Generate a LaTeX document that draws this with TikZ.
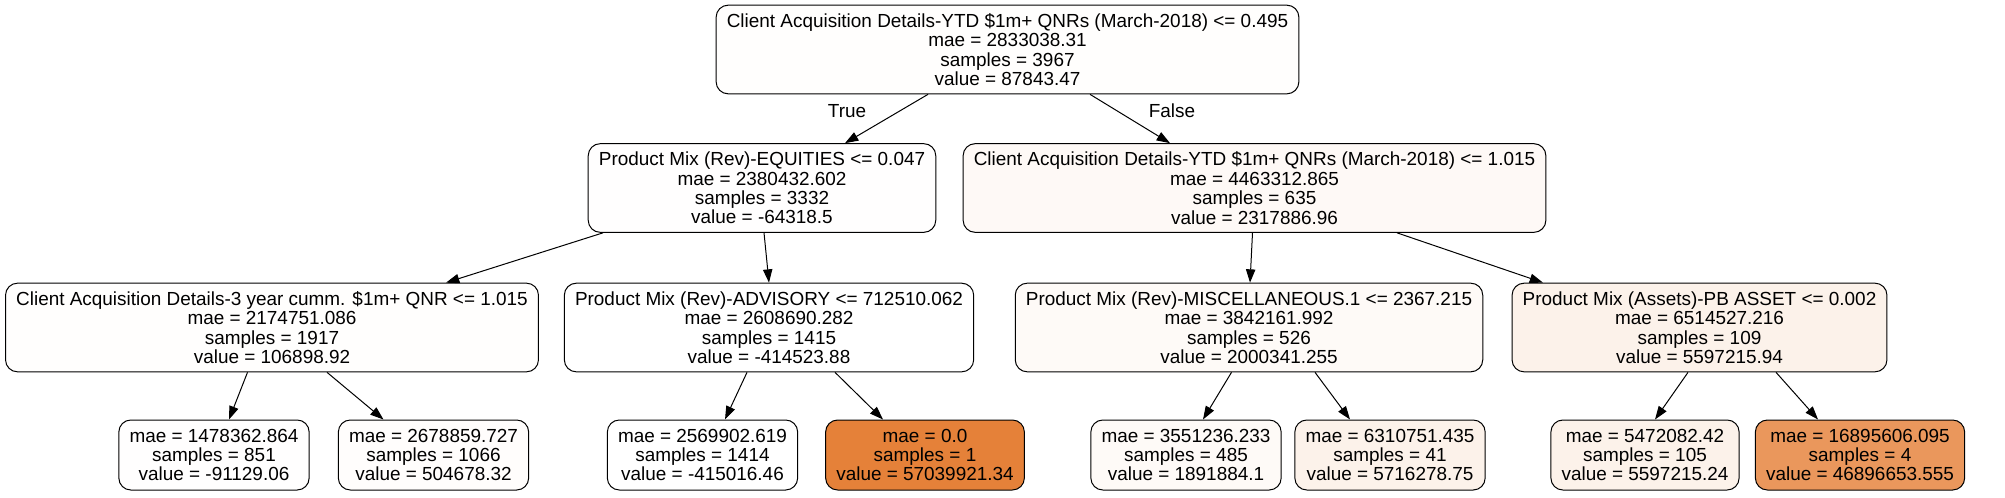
\documentclass[tikz,border=0pt]{standalone}
\usepackage{fontspec}
\setmainfont{Liberation Sans}
\usetikzlibrary{arrows.meta,calc}
\definecolor{fRoot}{RGB}{255,254,253}
\definecolor{fLa}{RGB}{255,254,254}
\definecolor{fLb}{RGB}{254,249,246}
\definecolor{fA}{RGB}{255,254,253}
\definecolor{fB}{RGB}{255,255,255}
\definecolor{fC}{RGB}{254,250,247}
\definecolor{fD}{RGB}{252,242,234}
\definecolor{fLone}{RGB}{255,254,254}
\definecolor{fLtwo}{RGB}{255,253,252}
\definecolor{fLthree}{RGB}{255,255,255}
\definecolor{fLfour}{RGB}{229,129,57}
\definecolor{fLfive}{RGB}{254,250,247}
\definecolor{fLsix}{RGB}{252,242,234}
\definecolor{fLseven}{RGB}{252,242,234}
\definecolor{fLeight}{RGB}{234,151,92}
\begin{document}
\begin{tikzpicture}[x=0.75pt,y=-0.75pt,
  tree/.style={draw=black, line width=0.75pt, rounded corners=9pt, align=center,
    inner xsep=8pt, inner ysep=0pt, font=\fontsize{14.2}{14.6}\selectfont},
  split/.style={tree, minimum height=66.5pt},
  leafbox/.style={tree, minimum height=52.5pt},
  edge/.style={line width=0.75pt, -{Triangle[length=10pt,width=7pt]}},
  elabel/.style={font=\fontsize{14.2}{14.6}\selectfont, inner sep=0pt}]
\fill[white] (0,0) rectangle (2005,497);
\useasboundingbox (0,0) rectangle (2005,497);

% level 0
\node[split, fill=fRoot] (root) at (1007.5,49.5)
  {Client Acquisition Details-YTD \$1m+ QNRs (March-2018) <= 0.495\\mae = 2833038.31\\samples = 3967\\value = 87843.47};
% level 1
\node[split, fill=fLa] (La) at (762,188)
  {Product Mix (Rev)-EQUITIES <= 0.047\\mae = 2380432.602\\samples = 3332\\value = -64318.5};
\node[split, fill=fLb] (Lb) at (1254.5,188)
  {Client Acquisition Details-YTD \$1m+ QNRs (March-2018) <= 1.015\\mae = 4463312.865\\samples = 635\\value = 2317886.96};
% level 2
\node[split, fill=fA] (A) at (272,327.5)
  {Client Acquisition Details-3 year cumm. \$1m+ QNR <= 1.015\\mae = 2174751.086\\samples = 1917\\value = 106898.92};
\node[split, fill=fB] (B) at (769,327.5)
  {Product Mix (Rev)-ADVISORY <= 712510.062\\mae = 2608690.282\\samples = 1415\\value = -414523.88};
\node[split, fill=fC] (C) at (1249,327.5)
  {Product Mix (Rev)-MISCELLANEOUS.1 <= 2367.215\\mae = 3842161.992\\samples = 526\\value = 2000341.255};
\node[split, fill=fD] (D) at (1699.5,327.5)
  {Product Mix (Assets)-PB ASSET <= 0.002\\mae = 6514527.216\\samples = 109\\value = 5597215.94};
% leaves
\node[leafbox, fill=fLone] (l1) at (214,455) {mae = 1478362.864\\samples = 851\\value = -91129.06};
\node[leafbox, fill=fLtwo] (l2) at (433.5,455) {mae = 2678859.727\\samples = 1066\\value = 504678.32};
\node[leafbox, fill=fLthree] (l3) at (702.5,455) {mae = 2569902.619\\samples = 1414\\value = -415016.46};
\node[leafbox, fill=fLfour] (l4) at (925,455) {mae = 0.0\\samples = 1\\value = 57039921.34};
\node[leafbox, fill=fLfive] (l5) at (1186,455) {mae = 3551236.233\\samples = 485\\value = 1891884.1};
\node[leafbox, fill=fLsix] (l6) at (1390,455) {mae = 6310751.435\\samples = 41\\value = 5716278.75};
\node[leafbox, fill=fLseven] (l7) at (1645,455) {mae = 5472082.42\\samples = 105\\value = 5597215.24};
\node[leafbox, fill=fLeight] (l8) at (1860,455) {mae = 16895606.095\\samples = 4\\value = 46896653.555};

% edges
\draw[edge] ($(root.south)+(-79.5,0)$) -- ($(La.north)+(83,0)$);
\draw[edge] ($(root.south)+(82.5,0)$) -- ($(Lb.north)+(-84.5,0)$);
\draw[edge] ($(La.south)+(-159,0)$) -- ($(A.north)+(174,0)$);
\draw[edge] ($(La.south)+(2,0)$) -- ($(B.north)+(0,0)$);
\draw[edge] ($(Lb.south)+(-2,0)$) -- ($(C.north)+(1,0)$);
\draw[edge] ($(Lb.south)+(142.5,0)$) -- ($(D.north)+(-156.5,0)$);
\draw[edge] ($(A.south)+(-24.5,0)$) -- ($(l1.north)+(15,0)$);
\draw[edge] ($(A.south)+(55,0)$) -- ($(l2.north)+(-50,0)$);
\draw[edge] ($(B.south)+(-22,0)$) -- ($(l3.north)+(22.5,0)$);
\draw[edge] ($(B.south)+(66,0)$) -- ($(l4.north)+(-42,0)$);
\draw[edge] ($(C.south)+(-17.5,0)$) -- ($(l5.north)+(17,0)$);
\draw[edge] ($(C.south)+(66,0)$) -- ($(l6.north)+(-40,0)$);
\draw[edge] ($(D.south)+(-11.5,0)$) -- ($(l7.north)+(10,0)$);
\draw[edge] ($(D.south)+(76.5,0)$) -- ($(l8.north)+(-42,0)$);

% edge labels
\node[elabel] (tlabel) at (847,111) {True};
\node[elabel] (flabel) at (1172,111) {False};
\end{tikzpicture}
\end{document}
